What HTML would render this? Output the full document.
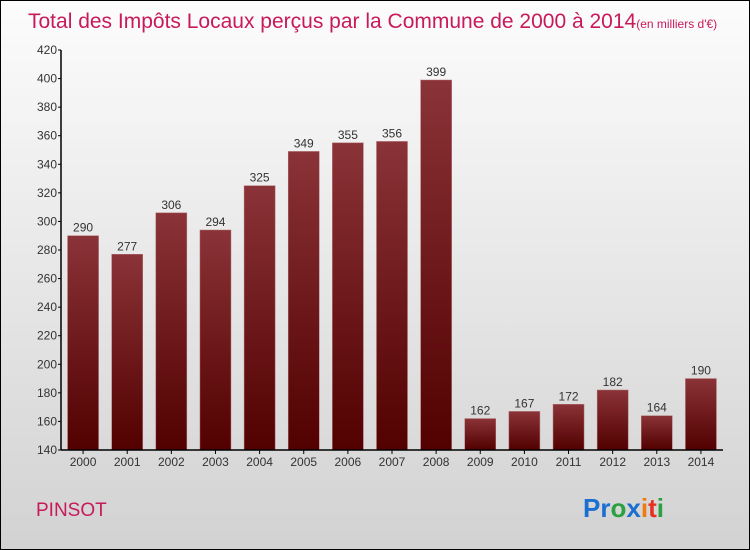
<!DOCTYPE html>
<html><head><meta charset="utf-8"><style>
body{margin:0;}
#wrap{width:748px;height:548px;border:1px solid #000;background:linear-gradient(#fcfcfc,#d2d2d2);position:relative;overflow:hidden;font-family:"Liberation Sans",sans-serif;}
</style></head><body>
<div id="wrap">
<svg id="chart" width="748" height="548">
<defs><linearGradient id="bg" x1="0" y1="0" x2="0" y2="1"><stop offset="0" stop-color="#8a3338"/><stop offset="1" stop-color="#520000"/></linearGradient></defs>
<text x="27" y="27" font-size="21" fill="#c8195a">Total des Impôts Locaux perçus par la Commune de 2000 à 2014<tspan font-size="12">(en milliers d'€)</tspan></text>
<text x="35" y="515" font-size="19" fill="#c8195a">PINSOT</text>
<text x="582" y="516" font-size="26" font-weight="bold"><tspan fill="#1a6fd0">Pr</tspan><tspan fill="#2aa040">o</tspan><tspan fill="#1a6fd0">x</tspan><tspan fill="#f07a10">i</tspan><tspan fill="#e83020">t</tspan><tspan fill="#2aa040">i</tspan></text>
<g id="plot"></g>
</svg></div>
<script>
const categories=["2000","2001","2002","2003","2004","2005","2006","2007","2008","2009","2010","2011","2012","2013","2014"];
const values=[290,277,306,294,325,349,355,356,399,162,167,172,182,164,190];
const ticks=[140,160,180,200,220,240,260,280,300,320,340,360,380,400,420];
const NS="http://www.w3.org/2000/svg";
const g=document.getElementById("plot");
const x0=60,x1=722,y0=449,y1=49,vmin=140,vmax=420;
const y=v=>y0-(v-vmin)/(vmax-vmin)*(y0-y1);
const step=(x1-x0)/categories.length;
const xc=i=>x0+step*(i+0.5);
function mk(t,a,txt){const e=document.createElementNS(NS,t);for(const k in a)e.setAttribute(k,a[k]);if(txt!=null)e.textContent=txt;g.appendChild(e);return e;}
values.forEach((v,i)=>{
 const r=mk("rect",{x:xc(i)-15.5,y:y(v),width:31,height:y0-y(v),fill:"url(#bg)",stroke:"#b07070","stroke-width":0.5});
 
 
 const t=mk("text",{x:xc(i),y:y(v)-4,"text-anchor":"middle","font-size":12,fill:"#333"},v);
 
 
 const c=mk("text",{x:xc(i),y:y0+16,"text-anchor":"middle","font-size":12,fill:"#333"},categories[i]);
 
 
 mk("line",{x1:xc(i),x2:xc(i),y1:y0,y2:y0+4,stroke:"#000"});
});
ticks.forEach(v=>{
 mk("line",{x1:x0-3,x2:x0,y1:y(v),y2:y(v),stroke:"#000"});
 const t=mk("text",{x:x0-4,y:y(v)+4,"text-anchor":"end","font-size":12,fill:"#333"},v);
 
 
});
const ya=mk("line",{x1:x0,x2:x0,y1:y1,y2:y0,stroke:"#000","stroke-width":1.5});


const xa=mk("line",{x1:x0,x2:x1,y1:y0,y2:y0,stroke:"#000","stroke-width":1.5});


</script>
</body></html>
